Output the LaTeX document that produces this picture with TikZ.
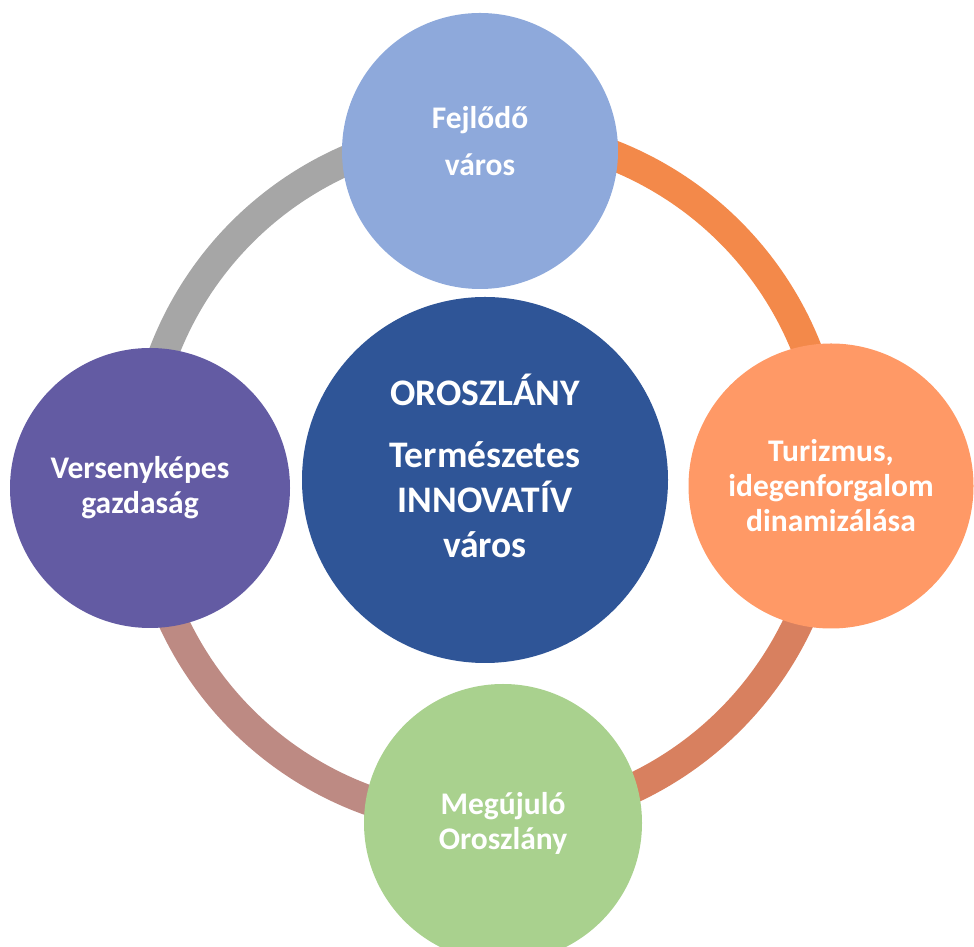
\documentclass[tikz,border=0pt]{standalone}
\usepackage{fontspec}
\setmainfont{Carlito}
\usetikzlibrary{positioning}

\definecolor{hubblue}{HTML}{2F5597}
\definecolor{skyblue}{HTML}{8EA9DB}
\definecolor{peach}{HTML}{FF9966}
\definecolor{leafgreen}{HTML}{A9D18E}
\definecolor{violet}{HTML}{635BA3}
\definecolor{ringgray}{HTML}{A6A6A6}
\definecolor{ringorange}{HTML}{F3894A}
\definecolor{ringrust}{HTML}{D8805F}
\definecolor{ringrose}{HTML}{BD8A83}

\begin{document}
\begin{tikzpicture}[x=1pt,y=1pt,
  hub/.style={circle,fill=hubblue,text=white,align=center,inner sep=0pt,
              minimum size=366pt,text depth=29pt,
              font=\fontsize{37.5}{45}\selectfont\bfseries},
  goal/.style={circle,text=white,align=center,inner sep=0pt,
              font=\fontsize{31.5}{35}\selectfont\bfseries},
  seg/.style={line width=30pt}]
\useasboundingbox (0,0) rectangle (974,947);
\coordinate (ring) at (486,471);
% ring behind the circles
\draw[seg,ringorange] ([shift={(91:345)}]ring) arc[start angle=91,end angle=-2,radius=345];
\draw[seg,ringrust] ([shift={(-2:345)}]ring) arc[start angle=-2,end angle=-87,radius=345];
\draw[seg,ringrose] ([shift={(-87:345)}]ring) arc[start angle=-87,end angle=-178,radius=345];
\draw[seg,ringgray] ([shift={(182:345)}]ring) arc[start angle=182,end angle=91,radius=345];
% circles
\node[goal,fill=skyblue,minimum size=276pt,text depth=21pt] (fejlodo) at (480,796) {Fejlődő\\[12pt]város};
\node[goal,fill=peach,minimum size=285pt] (turizmus) at (831,461) {Turizmus,\\idegenforgalom\\dinamizálása};
\node[goal,fill=leafgreen,minimum size=278pt] (megujulo) at (503,124) {Megújuló\\Oroszlány};
\node[goal,fill=violet,minimum size=280pt] (verseny) at (150,459)
  {Versenyképes\hspace*{20pt}\\gazdaság\hspace*{20pt}};
\node[hub] (varos) at (485,467) {OROSZLÁNY\\[17pt]Természetes\\INNOVATÍV\\város};
\end{tikzpicture}
\end{document}
